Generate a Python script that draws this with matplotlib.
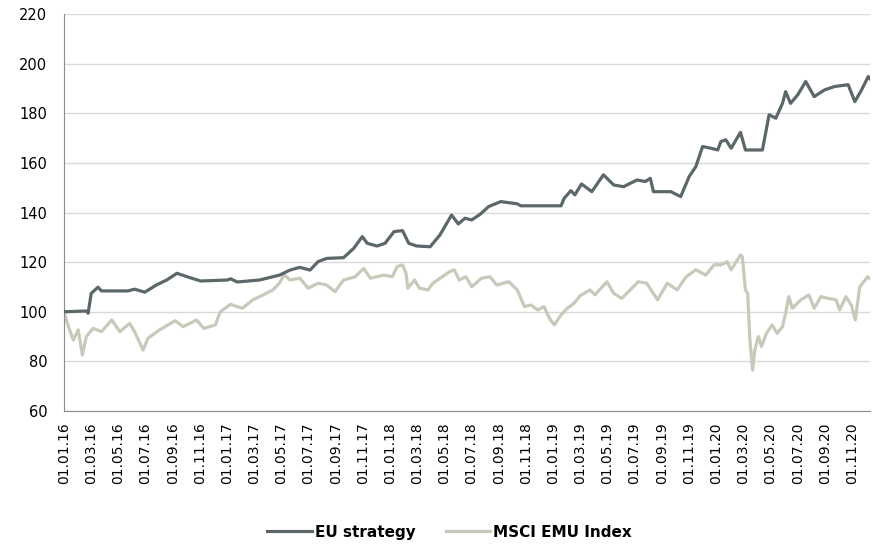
import matplotlib
matplotlib.use("Agg")
import matplotlib.pyplot as plt
import matplotlib.dates as mdates
import pandas as pd

# EU strategy
eu_dates = [
    "2016-01-01", "2016-02-20", "2016-02-24", "2016-03-02", "2016-03-17", "2016-03-25",
    "2016-05-23", "2016-06-07", "2016-06-30", "2016-07-26", "2016-08-18", "2016-09-10",
    "2016-10-03", "2016-11-02", "2017-01-01", "2017-01-08", "2017-01-23", "2017-03-14",
    "2017-04-28", "2017-05-21", "2017-06-12", "2017-07-05", "2017-07-23", "2017-08-11",
    "2017-09-18", "2017-10-11", "2017-10-30", "2017-11-10", "2017-12-02", "2017-12-20",
    "2018-01-09", "2018-01-28", "2018-02-11", "2018-03-01", "2018-03-31", "2018-04-22",
    "2018-05-18", "2018-06-02", "2018-06-17", "2018-07-02", "2018-07-21", "2018-08-09",
    "2018-09-05", "2018-10-12", "2018-10-20", "2019-01-18", "2019-01-25", "2019-02-09",
    "2019-02-18", "2019-03-05", "2019-03-28", "2019-04-23", "2019-05-16", "2019-06-07",
    "2019-07-07", "2019-07-26", "2019-08-06", "2019-08-13", "2019-09-21", "2019-10-13",
    "2019-11-01", "2019-11-16", "2019-12-01", "2019-12-20", "2020-01-04", "2020-01-11",
    "2020-01-22", "2020-02-03", "2020-02-14", "2020-02-24", "2020-03-06", "2020-04-13",
    "2020-04-28", "2020-05-13", "2020-05-28", "2020-06-04", "2020-06-15", "2020-07-01",
    "2020-07-19", "2020-08-07", "2020-08-30", "2020-09-22", "2020-10-22", "2020-11-06",
    "2020-11-21", "2020-12-06", "2020-12-09",
]
eu_values = [
    100.0, 100.3, 99.4, 107.4, 109.9, 108.4,
    108.4, 109.1, 107.9, 110.8, 112.8, 115.5,
    114.1, 112.4, 112.8, 113.3, 112.0, 112.8,
    114.8, 116.8, 117.9, 116.8, 120.2, 121.5,
    121.8, 125.6, 130.3, 127.6, 126.5, 127.6,
    132.3, 132.7, 127.6, 126.5, 126.2, 131.0,
    139.0, 135.4, 137.7, 137.0, 139.3, 142.4,
    144.4, 143.5, 142.7, 142.7, 145.7, 148.8,
    147.1, 151.5, 148.4, 155.2, 151.1, 150.4,
    153.1, 152.5, 153.8, 148.4, 148.4, 146.4,
    154.5, 158.5, 166.6, 165.9, 165.2, 168.6,
    169.3, 165.9, 169.3, 172.3, 165.2, 165.2,
    179.4, 178.0, 184.0, 188.7, 184.0, 187.4,
    192.8, 186.7, 189.4, 190.8, 191.5, 184.7,
    189.4, 194.8, 194.0,
]

# MSCI EMU Index
msci_dates = [
    "2016-01-01", "2016-01-11", "2016-01-22", "2016-02-02", "2016-02-11", "2016-02-20",
    "2016-03-06", "2016-03-25", "2016-04-17", "2016-05-05", "2016-05-27", "2016-06-07",
    "2016-06-26", "2016-07-07", "2016-08-02", "2016-09-06", "2016-09-24", "2016-10-24",
    "2016-11-09", "2016-12-05", "2016-12-16", "2017-01-08", "2017-02-03", "2017-02-27",
    "2017-03-22", "2017-04-13", "2017-04-27", "2017-05-08", "2017-05-21", "2017-06-12",
    "2017-07-01", "2017-07-23", "2017-08-11", "2017-08-30", "2017-09-18", "2017-10-14",
    "2017-11-02", "2017-11-17", "2017-12-17", "2018-01-05", "2018-01-16", "2018-01-28",
    "2018-02-05", "2018-02-09", "2018-02-24", "2018-03-07", "2018-03-26", "2018-04-06",
    "2018-05-14", "2018-05-24", "2018-06-04", "2018-06-19", "2018-07-02", "2018-07-24",
    "2018-08-12", "2018-08-27", "2018-09-23", "2018-10-12", "2018-10-28", "2018-11-12",
    "2018-11-27", "2018-12-11", "2018-12-23", "2019-01-03", "2019-01-18", "2019-02-01",
    "2019-02-16", "2019-03-02", "2019-03-24", "2019-04-04", "2019-05-01", "2019-05-16",
    "2019-06-03", "2019-06-22", "2019-07-10", "2019-07-29", "2019-08-22", "2019-09-13",
    "2019-10-05", "2019-10-25", "2019-11-16", "2019-12-08", "2019-12-27", "2020-01-11",
    "2020-01-18", "2020-01-25", "2020-02-03", "2020-02-24", "2020-02-28", "2020-03-06",
    "2020-03-11", "2020-03-16", "2020-03-22", "2020-03-27", "2020-04-04", "2020-04-11",
    "2020-04-22", "2020-05-05", "2020-05-16", "2020-05-28", "2020-06-04", "2020-06-11",
    "2020-06-19", "2020-07-08", "2020-07-26", "2020-08-07", "2020-08-22", "2020-09-07",
    "2020-09-25", "2020-10-03", "2020-10-17", "2020-10-29", "2020-11-07", "2020-11-17",
    "2020-12-05", "2020-12-09",
]
msci_values = [
    100.0, 94.0, 88.6, 92.7, 82.6, 90.0,
    93.3, 92.0, 96.7, 92.0, 95.3, 92.0,
    84.6, 89.3, 92.7, 96.4, 94.0, 96.7,
    93.3, 94.7, 100.0, 103.0, 101.4, 104.8,
    106.8, 108.8, 111.5, 114.8, 112.8, 113.5,
    109.5, 111.5, 110.8, 108.1, 112.8, 114.1,
    117.5, 113.5, 114.8, 114.1, 118.2, 118.9,
    115.5, 109.5, 112.8, 109.5, 108.8, 111.5,
    116.2, 116.9, 112.8, 114.1, 110.1, 113.5,
    114.1, 110.8, 112.1, 108.8, 102.1, 102.7,
    100.7, 102.1, 97.4, 94.7, 98.7, 101.4,
    103.4, 106.5, 108.8, 106.8, 112.1, 107.4,
    105.4, 108.8, 112.1, 111.5, 104.8, 111.5,
    108.8, 114.1, 116.9, 114.8, 118.9, 118.9,
    119.5, 120.2, 116.9, 122.9, 122.2, 108.8,
    107.4, 88.6, 76.5, 84.6, 90.0, 86.0,
    91.3, 94.7, 91.3, 94.0, 99.4, 106.1,
    101.4, 104.8, 106.8, 101.4, 106.1, 105.4,
    104.8, 100.7, 106.1, 102.7, 96.7, 110.1,
    114.1, 113.5,
]

eu = pd.Series(eu_values, index=pd.to_datetime(eu_dates))
msci = pd.Series(msci_values, index=pd.to_datetime(msci_dates))

fig = plt.figure(figsize=(8.73, 5.47), dpi=100)
ax = fig.add_axes([0.0733, 0.2486, 0.9233, 0.7258])

ax.plot(eu.index, eu.values, color="#5c676a", lw=2.3, label="EU strategy", zorder=3)
ax.plot(msci.index, msci.values, color="#c9c9bb", lw=2.3, label="MSCI EMU Index", zorder=2)

ax.set_ylim(60, 220)
ax.set_yticks(range(60, 221, 20))
ax.set_xlim(pd.Timestamp("2016-01-01"), pd.Timestamp("2020-12-10"))
ax.xaxis.set_major_locator(mdates.MonthLocator(bymonth=[1, 3, 5, 7, 9, 11], bymonthday=1))
ax.xaxis.set_major_formatter(mdates.DateFormatter("%d.%m.%y"))

ax.grid(axis="y", color="#d9d9d9", lw=1)
ax.set_axisbelow(True)
for s in ["top", "right"]:
    ax.spines[s].set_visible(False)
for s in ["left", "bottom"]:
    ax.spines[s].set_color("#8c8c8c")
ax.tick_params(axis="both", length=0, colors="black")
ax.tick_params(axis="y", pad=12, labelsize=10.5)
ax.tick_params(axis="x", pad=8, labelrotation=90, labelsize=10)

fig.legend(loc="center", bbox_to_anchor=(0.515, 0.027), ncol=2, frameon=False,
           prop={"weight": "bold", "size": 11}, handlelength=2.9,
           handletextpad=0.2, columnspacing=2.0)

fig.savefig("out.png", dpi=100)
